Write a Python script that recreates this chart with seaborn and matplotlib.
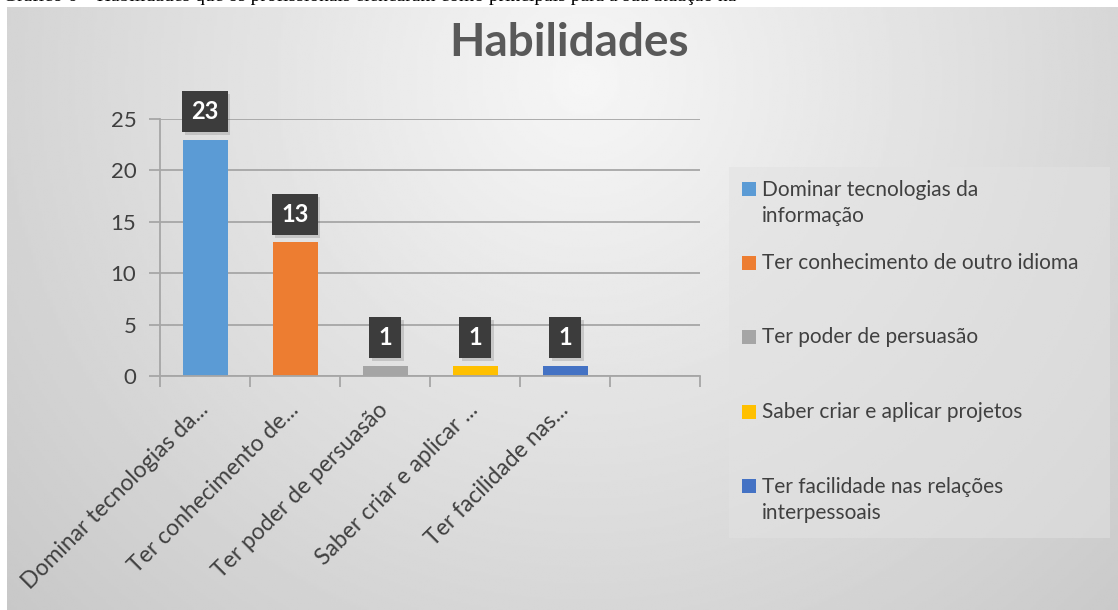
import matplotlib
matplotlib.use('Agg')
import matplotlib.pyplot as plt
import matplotlib.patheffects as pe
from matplotlib.patches import Rectangle
import numpy as np
import pandas as pd
import seaborn as sns

# dados do gráfico
habilidades = ['Dominar tecnologias da informação', 'Ter conhecimento de outro idioma',
               'Ter poder de persuasão', 'Saber criar e aplicar projetos',
               'Ter facilidade nas relações interpessoais']
rotulos_eixo = ['Dominar tecnologias da...', 'Ter conhecimento de...', 'Ter poder de persuasão',
                'Saber criar e aplicar ...', 'Ter facilidade nas...']
rotulos_legenda = ['Dominar tecnologias da\ninformação', 'Ter conhecimento de outro idioma',
                   'Ter poder de persuasão', 'Saber criar e aplicar projetos',
                   'Ter facilidade nas relações\ninterpessoais']
respostas = [23, 13, 1, 1, 1]
cores = ['#5B9BD5', '#ED7D31', '#A5A5A5', '#FFC000', '#4472C4']
legenda = 'Gráfico 6 – Habilidades que os profissionais elencaram como principais para a sua atuação na'

W, H = 1118, 610

sns.set_style('white')
plt.rcParams['font.family'] = ['Lato', 'DejaVu Sans']

fig = plt.figure(figsize=(W / 100, H / 100), dpi=100)
fig.patch.set_facecolor('white')

# legenda do documento, cortada no topo (como na imagem original)
fig.text(0.003, 1 + 4 / H, legenda, va='center', ha='left', fontsize=14,
         family=['Liberation Serif'], color='black', zorder=-2)

# fundo em degradê
bg = fig.add_axes([7 / W, 0, 1 - 7 / W, 603 / H], zorder=-1)
gx, gy = np.meshgrid(np.linspace(0, 1, 400), np.linspace(0, 1, 300))
dist = np.sqrt(((gx - 0.52) / 0.55) ** 2 + ((gy - 0.12) / 1.0) ** 2)
grad = np.clip(0.965 - 0.14 * dist, 0, 1)
bg.imshow(grad, cmap='gray', vmin=0, vmax=1, aspect='auto', extent=[0, 1, 0, 1])
bg.axis('off')

# painel da legenda
fig.patches.append(Rectangle((729 / W, 1 - 538 / H), (1110 - 729) / W, (538 - 167) / H,
                             transform=fig.transFigure, facecolor='#e2e2e2', edgecolor='none',
                             alpha=0.55, zorder=0.5))

ax = fig.add_axes([160 / W, 1 - 376 / H, 540 / W, 257 / H])
ax.set_facecolor('none')

df = pd.DataFrame({'habilidade': habilidades, 'respostas': respostas})
sns.barplot(data=df, x='habilidade', y='respostas', hue='habilidade', palette=cores,
            width=0.5, saturation=1, legend=False, linewidth=0, ax=ax)

ax.set_xlim(-0.5, 5.5)
ax.set_ylim(0, 25)
ax.set_yticks(range(0, 26, 5))
ax.set_xticks(range(len(rotulos_eixo)))
ax.set_xticklabels(rotulos_eixo, rotation=45, ha='right', va='center', rotation_mode='anchor')
ax.set_xticks(np.arange(-0.5, 6, 1), minor=True)
ax.set_xlabel('')
ax.set_ylabel('')

grid_cor = '#a6a6a6'
ax.yaxis.grid(True, color=grid_cor, linewidth=1.3)
ax.set_axisbelow(True)
for s in ['top', 'right']:
    ax.spines[s].set_visible(False)
for s in ['left', 'bottom']:
    ax.spines[s].set_color(grid_cor)
    ax.spines[s].set_linewidth(1.3)
ax.tick_params(axis='y', length=8, width=1.3, color=grid_cor, pad=9, labelsize=16, labelcolor='#404040', left=True)
ax.tick_params(axis='x', which='major', length=0, pad=22, labelsize=16.5, labelcolor='#404040')
ax.tick_params(axis='x', which='minor', length=8, width=1.3, color=grid_cor, bottom=True)

# rótulos de dados
for i, v in enumerate(respostas):
    t = ax.annotate(str(v), xy=(i, v), xytext=(0, 28), textcoords='offset pixels',
                    ha='center', va='center', fontsize=17, fontweight='bold', color='white',
                    bbox=dict(boxstyle='square,pad=0.38', facecolor='#3c3c3c', edgecolor='none'))
    t.get_bbox_patch().set_path_effects([pe.SimplePatchShadow(offset=(2, -2), alpha=0.2,
                                                              shadow_rgbFace='#505050'), pe.Normal()])

fig.text(569 / W, 1 - 43 / H, 'Habilidades', ha='center', va='center', fontsize=33,
         fontweight='bold', color='#595959')

# legenda manual
linhas_y = [203, 263, 337, 412, 500]
primeira_linha = [189, 263, 337, 412, 486]
for cor, rotulo, yc, y1 in zip(cores, rotulos_legenda, linhas_y, primeira_linha):
    fig.patches.append(Rectangle((742 / W, 1 - (y1 + 7) / H), 14 / W, 14 / H,
                                 transform=fig.transFigure, facecolor=cor, edgecolor='none', zorder=1))
    fig.text(762 / W, 1 - yc / H, rotulo, ha='left', va='center', fontsize=15,
             color='#404040', linespacing=1.4)

fig.savefig('out.png', dpi=100)
